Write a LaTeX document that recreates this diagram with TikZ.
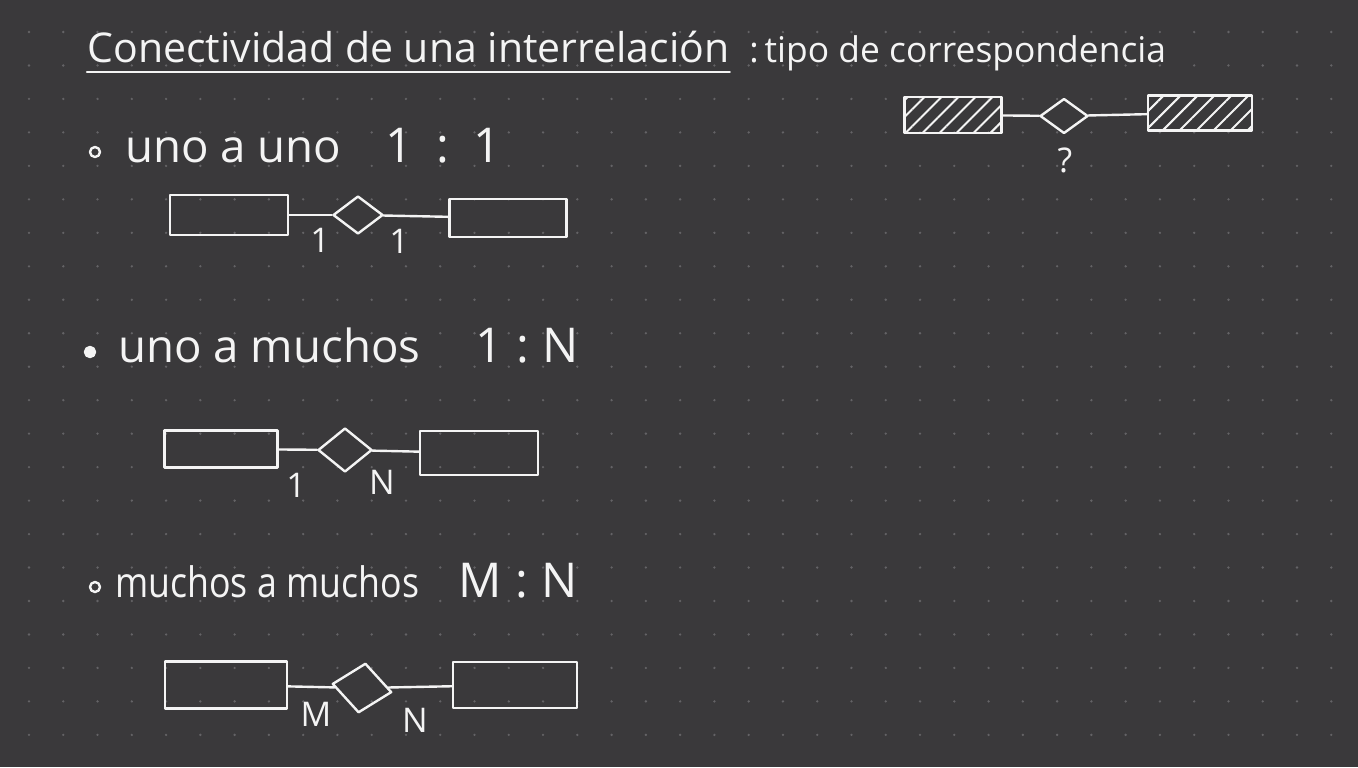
\documentclass[tikz,border=0pt]{standalone}
\usepackage{fontspec}
\setmainfont{Open Sans}
\usepackage{xcolor}
\usepackage{tikz}
\usetikzlibrary{shapes.geometric,patterns.meta}
\definecolor{board}{HTML}{3A393B}
\definecolor{dotgray}{HTML}{646366}
\definecolor{chalk}{HTML}{F4F4F4}

\tikzset{
  ink/.style={draw=chalk, line width=1.2pt, line cap=round, line join=round},
  entity/.style={ink, rectangle, inner sep=0pt},
  weakentity/.style={entity, pattern={Lines[angle=45,distance=6pt,line width=1pt]}, pattern color=chalk},
  relation/.style={ink, diamond, inner sep=0pt},
  card/.style={text=chalk, inner sep=0pt, font=\fontsize{17}{20}\selectfont},
  hand/.style={text=chalk, anchor=base west, inner sep=0pt},
  bulletmark/.style={ink, circle, inner sep=0pt, minimum size=5pt},
}

\begin{document}
\begin{tikzpicture}[x=0.5pt, y=-0.5pt]
% board and dot grid
\fill[board] (0,0) rectangle (1358,767);
\foreach \i in {0,...,38}
  \foreach \j in {0,...,21}
    \fill[dotgray] ({29+34.27*\i},{32+33.47*\j}) circle (0.65pt);

% title
\node[hand, font=\fontsize{20.5}{24}\selectfont] (title) at (87,62) {Conectividad de una interrelación};
\draw[ink] ([yshift=-5pt]title.base west) -- ([yshift=-5pt]title.base east);
\node[hand, font=\fontsize{17.7}{21}\selectfont] (kind) at (749,62) {:\,tipo de correspondencia};

% generic case
\node[weakentity, minimum width=48.5pt, minimum height=18pt] (ga) at (953,115) {};
\node[relation, minimum width=24pt, minimum height=17.5pt] (gr) at (1064,116) {};
\node[weakentity, minimum width=52pt, minimum height=17.5pt] (gb) at (1200,113) {};
\draw[ink] (ga) -- (gr);
\draw[ink] (gr) -- (gb);
\node[card] (gq) at (1065,160) {?};

% 1:1
\node[bulletmark] (b1) at (95,152) {};
\node[hand, font=\fontsize{22.8}{26}\selectfont] (t1) at (125,162) {uno a uno};
\node[hand, font=\fontsize{24}{28}\selectfont] (c1) at (385,162) {1\enspace:\enspace1};
\node[entity, minimum width=59pt, minimum height=20pt] (e1a) at (229,215) {};
\node[relation, minimum width=25pt, minimum height=19pt] (r1) at (358,215) {};
\node[entity, minimum width=58.5pt, minimum height=19pt] (e1b) at (508,218) {};
\draw[ink] (e1a) -- (r1);
\draw[ink] (r1) -- (e1b);
\node[card] (l1a) at (320,240) {1};
\node[card] (l1b) at (399,241) {1};

% 1:N
\node[bulletmark, fill=chalk] (b2) at (90,352) {};
\node[hand, font=\fontsize{22.8}{26}\selectfont] (t2) at (118,362) {uno a muchos};
\node[hand, font=\fontsize{24}{28}\selectfont] (c2) at (475,362) {1\;:\;N};
\node[entity, minimum width=56.5pt, minimum height=18.5pt] (e2a) at (221,449) {};
\node[relation, minimum width=27pt, minimum height=22pt] (r2) at (345,450) {};
\node[entity, minimum width=59pt, minimum height=22pt] (e2b) at (479,453) {};
\draw[ink] (e2a) -- (r2);
\draw[ink] (r2) -- (e2b);
\node[card] (l2a) at (296,485) {1};
\node[card] (l2b) at (382,482) {N};

% M:N
\node[bulletmark] (b3) at (95,587) {};
\node[hand, font=\fontsize{21}{25}\selectfont] (t3) at (115,597) {\scalebox{0.85}[1]{muchos a muchos}};
\node[hand, font=\fontsize{24}{28}\selectfont] (c3) at (458,597) {M\;:\;N};
\node[entity, minimum width=61pt, minimum height=23.5pt] (e3a) at (226,685) {};
\node[relation, minimum width=30pt, minimum height=25pt, rotate=-8] (r3) at (362,688) {};
\node[entity, minimum width=62pt, minimum height=23pt] (e3b) at (515,685) {};
\draw[ink] (e3a) -- (r3);
\draw[ink] (r3) -- (e3b);
\node[card] (l3a) at (316,714) {M};
\node[card] (l3b) at (415,720) {N};
\end{tikzpicture}
\end{document}
